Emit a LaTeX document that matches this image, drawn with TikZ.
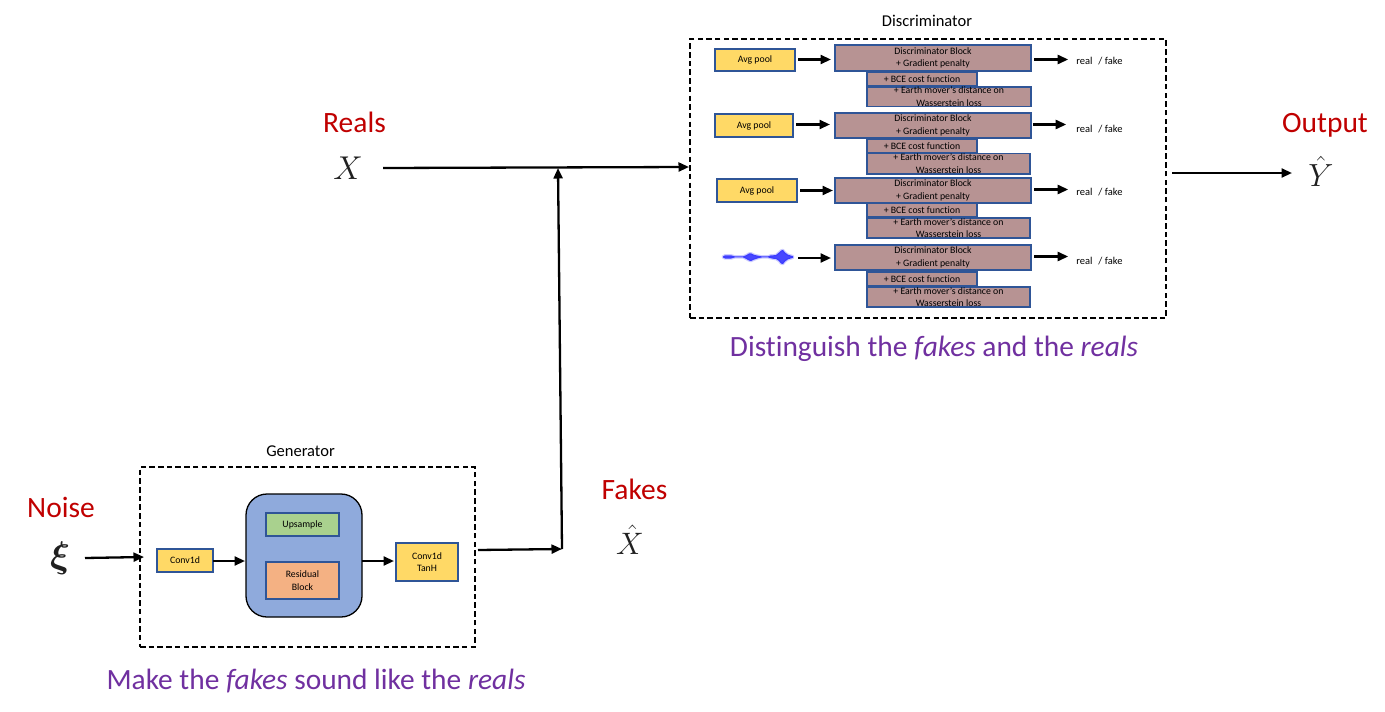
\RequirePackage{fix-cm}
\documentclass[tikz,border=0pt]{standalone}
\usepackage{fontspec}
\setmainfont[Ligatures={NoCommon,TeX}]{Carlito}
\usetikzlibrary{arrows.meta,calc}
\definecolor{titlered}{HTML}{C00000}
\definecolor{capviolet}{HTML}{7030A0}
\definecolor{boxedge}{HTML}{2F5597}
\definecolor{gold}{HTML}{FFD966}
\definecolor{mauve}{HTML}{B79393}
\definecolor{leaf}{HTML}{A9D18E}
\definecolor{peach}{HTML}{F4B183}
\definecolor{sky}{HTML}{8FAADC}
\definecolor{symbolgrey}{HTML}{202020}
\tikzset{
  x=1pt,y=-1pt,
  base/.style={inner sep=0pt,outer sep=0pt,align=center,text=black,font=\fontsize{9.8}{12.6}\selectfont},
  goldbox/.style={base,draw=boxedge,fill=gold,line width=1.2pt},
  blockbox/.style={base,draw=boxedge,fill=mauve,line width=1.2pt},
  leafbox/.style={base,draw=boxedge,fill=leaf,line width=1.2pt},
  peachbox/.style={base,draw=boxedge,fill=peach,line width=1.2pt},
  hub/.style={base,draw=black,fill=sky,line width=1.3pt,rounded corners=21pt},
  frame/.style={base,draw=black,line width=1.3pt,dash pattern=on 5.5pt off 3.2pt},
  arrow/.style={draw=black,line width=2.3pt,-{Triangle[length=10.5pt,width=9pt]}},
  redlabel/.style={inner sep=0pt,anchor=base,text=titlered,font=\fontsize{29.5}{32}\selectfont},
  caption/.style={inner sep=0pt,anchor=base,text=capviolet,font=\fontsize{29.4}{32}\selectfont},
  boxtitle/.style={inner sep=0pt,anchor=base,text=black,font=\fontsize{16.5}{18}\selectfont},
  rf/.style={inner sep=0pt,text=black,font=\fontsize{10.5}{12}\selectfont},
  symbol/.style={inner sep=0pt,text=symbolgrey},
}
% box from corner to corner: style, name, x1, y1, x2, y2, text
\newcommand\cornerbox[7]{%
  \pgfmathsetmacro\bw{#5-#3}\pgfmathsetmacro\bh{#6-#4}%
  \node[#1,anchor=north west,minimum width=\bw pt,minimum height=\bh pt] (#2) at (#3,#4) {#7};}
\begin{document}
\begin{tikzpicture}
\useasboundingbox (0,0) rectangle (1385,712);
\fill[white] (0,0) rectangle (1385,712);

% frames
\cornerbox{frame}{disc}{690}{39}{1166}{318}{}
\cornerbox{frame}{gen}{140}{467}{475}{647}{}
\node[boxtitle] (disctitle) at (927,26.7) {Discriminator};
\node[boxtitle] (gentitle) at (300.5,456.7) {Generator};

% row 1
\cornerbox{goldbox}{avgA}{715}{49}{795}{71}{Avg pool}
\cornerbox{blockbox}{blkA}{835}{45}{1031}{71}{Discriminator Block\\+ Gradient penalty}
\cornerbox{blockbox}{bceA}{867}{72}{977}{86}{+ BCE cost function}
\cornerbox{blockbox}{emdA}{867}{87}{1031}{106}{+ Earth mover's distance on\\Wasserstein loss}
\node[rf] (rfA) at (1099.5,61.5) {real \,\,/ fake};
% row 2
\cornerbox{goldbox}{avgB}{715}{114}{793}{137}{Avg pool}
\cornerbox{blockbox}{blkB}{835}{113}{1031}{138}{Discriminator Block\\+ Gradient penalty}
\cornerbox{blockbox}{bceB}{867}{139}{977}{153}{+ BCE cost function}
\cornerbox{blockbox}{emdB}{867}{153.5}{1030}{174}{+ Earth mover's distance on\\Wasserstein loss}
\node[rf] (rfB) at (1099.5,129) {real \,\,/ fake};
% row 3
\cornerbox{goldbox}{avgC}{717}{179}{797}{202}{Avg pool}
\cornerbox{blockbox}{blkC}{835}{178}{1031}{203}{Discriminator Block\\+ Gradient penalty}
\cornerbox{blockbox}{bceC}{867}{203.5}{977}{217}{+ BCE cost function}
\cornerbox{blockbox}{emdC}{867}{218}{1030}{238}{+ Earth mover's distance on\\Wasserstein loss}
\node[rf] (rfC) at (1099.5,192) {real \,\,/ fake};
% row 4
\cornerbox{blockbox}{blkD}{835}{245}{1031}{270}{Discriminator Block\\+ Gradient penalty}
\cornerbox{blockbox}{bceD}{867}{272}{977}{286}{+ BCE cost function}
\cornerbox{blockbox}{emdD}{867}{287}{1030}{307}{+ Earth mover's distance on\\Wasserstein loss}
\node[rf] (rfD) at (1099.5,261) {real \,\,/ fake};

% waveform
\fill[blue!90!white,fill opacity=0.8,line join=round,draw=blue!90!white,draw opacity=0.22,line width=2.4pt]
  (723,256.5) -- (725,255.3) -- (731,255.3) -- (735,256.4) -- (743,256.4) -- (746,255.3) -- (749,253.5) -- (751,253.3) -- (754,254.8) -- (758,255.7) -- (762,256.4) -- (768,256.4) -- (771,255.3) -- (773,255.3) -- (776,255) -- (779,252.5) -- (781,250.5) -- (783,250) -- (785,252.5) -- (788,254.7) -- (793,256.2)
  -- (793,257.8) -- (788,259.3) -- (785,261.5) -- (783,264) -- (781,263.5) -- (779,261) -- (776,259) -- (773,258.7) -- (771,258.3) -- (768,257.4) -- (762,257.4) -- (758,258.3) -- (754,259.6) -- (751,261) -- (749,260.5) -- (746,258.8) -- (743,257.4) -- (735,257.4) -- (731,258.5) -- (725,258.5) -- (723,257.5) -- cycle;
\coordinate (wave) at (793,258);

% discriminator arrows
\draw[arrow,shorten <=3pt,shorten >=4pt] (avgA.east |- 0,59.5) -- (blkA.west |- 0,59.5);
\draw[arrow,shorten <=3pt,shorten >=5pt] (avgB.east |- 0,124.5) -- (blkB.west |- 0,124.5);
\draw[arrow,shorten <=3pt,shorten >=2pt] (avgC.east |- 0,190.5) -- (blkC.west |- 0,190.5);
\draw[arrow,shorten <=5pt,shorten >=4pt] (wave) -- (wave -| blkD.west);
\draw[arrow,shorten <=3pt,shorten >=8pt] (blkA.east |- 0,59.5) -- (rfA.west |- 0,59.5) ;
\draw[arrow,shorten <=2pt,shorten >=10pt] (blkB.east |- 0,124.5) -- (rfB.west |- 0,124.5);
\draw[arrow,shorten <=3pt,shorten >=8pt] (blkC.east |- 0,189.5) -- (rfC.west |- 0,189.5);
\draw[arrow,shorten <=3pt,shorten >=8pt] (blkD.east |- 0,256.5) -- (rfD.west |- 0,256.5);

% generator
\cornerbox{hub}{hub}{246}{494}{362}{617}{}
\cornerbox{goldbox}{convA}{157}{549}{213}{572}{Conv1d}
\cornerbox{leafbox}{up}{266}{513}{339}{536}{Upsample}
\cornerbox{peachbox}{res}{266}{562}{339}{599}{Residual\\Block}
\cornerbox{goldbox}{convB}{396}{543}{458}{581}{Conv1d\\TanH}
\draw[arrow,shorten >=1pt] (convA.east |- 0,561) -- (hub.west |- 0,561);
\draw[arrow,shorten >=2pt] (hub.east |- 0,561) -- (convB.west |- 0,561);

% labels and symbols
\node[redlabel] (realsL) at (354.5,132) {Reals};
\node[redlabel] (noiseL) at (61,517) {Noise};
\node[redlabel] (fakesL) at (634.5,499) {Fakes};
\node[redlabel] (outL) at (1325,132.5) {Output};
\node[symbol,font=\fontsize{33}{36}\selectfont] (X) at (348,168.5) {$X$};
\node[symbol,font=\fontsize{37}{40}\selectfont\boldmath] (xi) at (60,558) {$\xi$};
\node[symbol,font=\fontsize{31}{34}\selectfont] (Xh) at (630,540) {$\hat X$};
\node[symbol,font=\fontsize{32}{34}\selectfont] (Yh) at (1321,171) {$\hat Y$};
\node[caption] (capD) at (934,356) {Distinguish the \textit{fakes} and the \textit{reals}};
\node[caption] (capG) at (316,689) {Make the \textit{fakes} sound like the \textit{reals}};

% main connectors
\coordinate (junctionTop) at (558,168);
\coordinate (junctionBot) at (562,549);
\coordinate (genOut) at (478,550);
\coordinate (discIn) at (689,167);
\coordinate (realsOut) at (383,168);
\coordinate (noiseOut) at (85,558);
\coordinate (genIn) at (144,557);
\coordinate (discOut) at (1172,173);
\coordinate (outIn) at (1292,173);
\draw[arrow] (noiseOut) -- (genIn);
\draw[arrow] (realsOut) -- (discIn);
\draw[arrow] (discOut) -- (outIn);
\draw[arrow] (genOut) -- (junctionBot);
\draw[arrow] (junctionBot) -- (junctionTop);
\end{tikzpicture}
\end{document}
